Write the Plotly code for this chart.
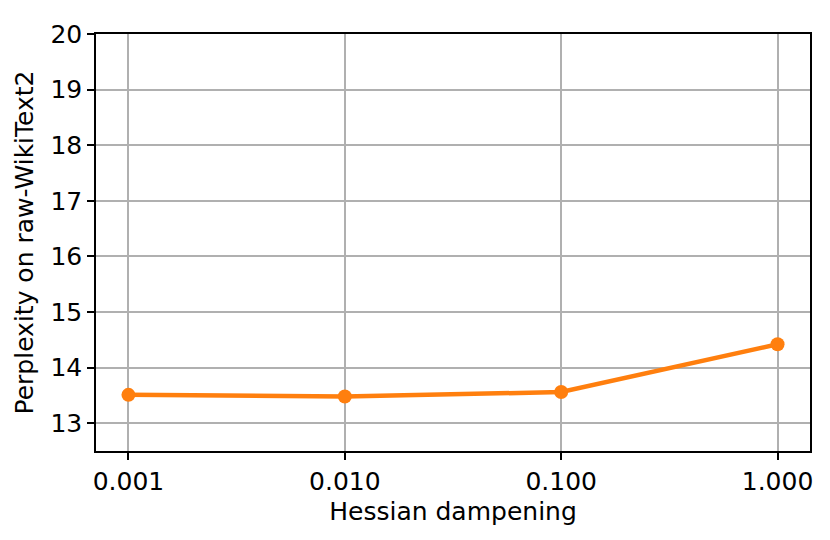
import plotly.graph_objects as go

dampening = [0.001, 0.01, 0.1, 1.0]
perplexity = [13.51, 13.48, 13.56, 14.42]
x_tick_vals = [0.001, 0.01, 0.1, 1.0]
x_tick_text = ["0.001", "0.010", "0.100", "1.000"]
y_tick_vals = [13, 14, 15, 16, 17, 18, 19, 20]

fig = go.Figure()
fig.add_scatter(
    x=dampening,
    y=perplexity,
    mode="lines+markers",
    line=dict(color="#ff7f0e", width=4.5),
    marker=dict(color="#ff7f0e", size=14),
    showlegend=False,
)

axis_style = dict(
    showline=True,
    linecolor="black",
    linewidth=1.6,
    mirror=True,
    ticks="outside",
    ticklen=7,
    tickwidth=1.6,
    tickcolor="black",
    showgrid=True,
    gridcolor="#b0b0b0",
    gridwidth=1.6,
    zeroline=False,
    tickfont=dict(size=25, color="black"),
)

fig.update_xaxes(
    type="log",
    range=[-3.15, 0.15],
    tickvals=x_tick_vals,
    ticktext=x_tick_text,
    title=dict(text="Hessian dampening", font=dict(size=25, color="black"), standoff=8),
    **axis_style,
)
fig.update_yaxes(
    range=[12.5, 20],
    tickvals=y_tick_vals,
    title=dict(text="Perplexity on raw-WikiText2", font=dict(size=25, color="black"), standoff=10),
    **axis_style,
)

# page body has an 8px margin, so the figure is a bit smaller than the window
fig.update_layout(
    width=822,
    height=532,
    margin=dict(l=88, r=20, t=17, b=89),
    paper_bgcolor="white",
    plot_bgcolor="white",
    font=dict(family="DejaVu Sans", color="black"),
)

fig.write_html("out.html")
